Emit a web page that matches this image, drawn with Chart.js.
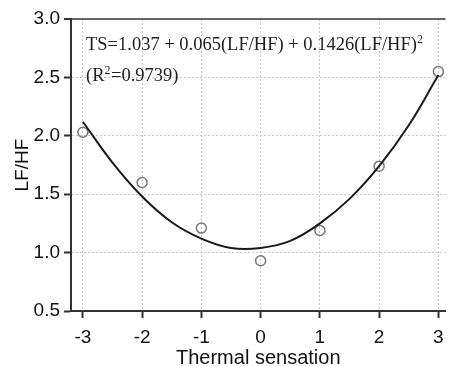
<!DOCTYPE html>
<html lang="en">
<head>
<meta charset="UTF-8">
<title>LF/HF vs Thermal sensation</title>
<script src="https://cdn.jsdelivr.net/npm/chart.js@4.4.1/dist/chart.umd.min.js"></script>
<style>
    * { margin: 0; padding: 0; box-sizing: border-box; }
    body { background: #fff; width: 452px; height: 367px; overflow: hidden; }
    canvas { display: block; }
</style>
</head>
<body>
<canvas id="chart" width="452" height="367"></canvas>
<script>
const sensation = [-3, -2, -1, 0, 1, 2, 3];
const lfhf = [2.03, 1.60, 1.21, 0.93, 1.19, 1.74, 2.55];

// fitted curve, sampled off the drawn line
const curveX = [-3, -2.5, -2, -1.5, -1, -0.5, 0, 0.5, 1, 1.5, 2, 2.5, 3];
const curveY = [2.12, 1.77, 1.48, 1.26, 1.12, 1.04, 1.04, 1.10, 1.25, 1.46, 1.74, 2.09, 2.52];

const xTicks = [-3, -2, -1, 0, 1, 2, 3];
const yTicks = [0.5, 1.0, 1.5, 2.0, 2.5, 3.0];

// equation label, split where the superscripts go
const line1 = ['TS=1.037 + 0.065(LF/HF) + 0.1426(LF/HF)', '2'];
const line2 = ['(R', '2', '=0.9739)'];

const sans = '"Liberation Sans", Arial, sans-serif';
const serif = '"Liberation Serif", "Times New Roman", serif';

// draws parts in turn, odd parts as superscript
function drawWithSup(ctx, parts, x, y) {
    parts.forEach((p, i) => {
        const sup = i % 2 === 1;
        ctx.font = sup ? '12px ' + serif : '18.5px ' + serif;
        ctx.fillText(p, x, sup ? y - 7 : y);
        x += ctx.measureText(p).width + (sup ? 0.5 : 0);
    });
}

const equationLabel = {
    id: 'equationLabel',
    afterDatasetsDraw(chart) {
        const ctx = chart.ctx;
        const x = chart.chartArea.left + 15;
        ctx.save();
        ctx.fillStyle = '#1e1e1e';
        ctx.textBaseline = 'alphabetic';
        drawWithSup(ctx, line1, x, chart.chartArea.top + 31);
        drawWithSup(ctx, line2, x, chart.chartArea.top + 62);
        ctx.restore();
    }
};

const gridDash = [2, 2];

new Chart(document.getElementById('chart'), {
    type: 'scatter',
    data: {
        datasets: [
            {
                label: 'fit',
                data: curveX.map((x, i) => ({ x: x, y: curveY[i] })),
                showLine: true,
                borderColor: '#1a1a1a',
                borderWidth: 2,
                tension: 0.4,
                pointRadius: 0,
                fill: false
            },
            {
                label: 'LF/HF',
                data: sensation.map((x, i) => ({ x: x, y: lfhf[i] })),
                showLine: false,
                pointRadius: 5,
                pointBorderWidth: 1.5,
                pointBorderColor: '#777',
                pointBackgroundColor: 'rgba(255,255,255,0)'
            }
        ]
    },
    options: {
        responsive: false,
        animation: false,
        layout: { padding: { top: 19, right: 0, left: 0, bottom: 0 } },
        plugins: {
            legend: { display: false },
            tooltip: { enabled: false }
        },
        scales: {
            x: {
                type: 'linear',
                min: -3.2,
                max: 3.12,
                afterBuildTicks: (s) => { s.ticks = xTicks.map(v => ({ value: v })); },
                afterFit: (s) => { s.height = 56; },
                grid: {
                    color: '#c8c8c8',
                    lineWidth: 1,
                    drawTicks: true,
                    tickLength: 7,
                    tickColor: '#333',
                    tickWidth: 2,
                    tickBorderDash: []
                },
                border: { display: true, color: '#333', width: 2, dash: gridDash },
                ticks: {
                    color: '#111',
                    font: { family: sans, size: 19 },
                    padding: 8,
                    callback: (v) => String(v)
                },
                title: {
                    display: true,
                    text: 'Thermal sensation',
                    color: '#111',
                    font: { family: sans, size: 20, lineHeight: 1.0 },
                    padding: { top: 0, bottom: -1 }
                }
            },
            y: {
                type: 'linear',
                min: 0.5,
                max: 3.0,
                afterBuildTicks: (s) => { s.ticks = yTicks.map(v => ({ value: v })); },
                afterFit: (s) => { s.width = 71; },
                grid: {
                    color: (c) => c.tick && c.tick.value === 3 ? '#666' : '#c8c8c8',
                    lineWidth: (c) => c.tick && c.tick.value === 3 ? 2 : 1,
                    drawTicks: true,
                    tickLength: 7,
                    tickColor: '#333',
                    tickWidth: 2,
                    tickBorderDash: []
                },
                border: {
                    display: true,
                    color: '#333',
                    width: 2,
                    dash: (c) => c.tick && c.tick.value === 3 ? [] : gridDash
                },
                ticks: {
                    color: '#111',
                    font: { family: sans, size: 19 },
                    padding: 4,
                    callback: (v) => v.toFixed(1)
                },
                title: {
                    display: true,
                    text: 'LF/HF',
                    color: '#111',
                    font: { family: sans, size: 19, lineHeight: 1.0 },
                    padding: { top: 13, bottom: 0 }
                }
            }
        }
    },
    plugins: [equationLabel]
});
</script>
</body>
</html>
